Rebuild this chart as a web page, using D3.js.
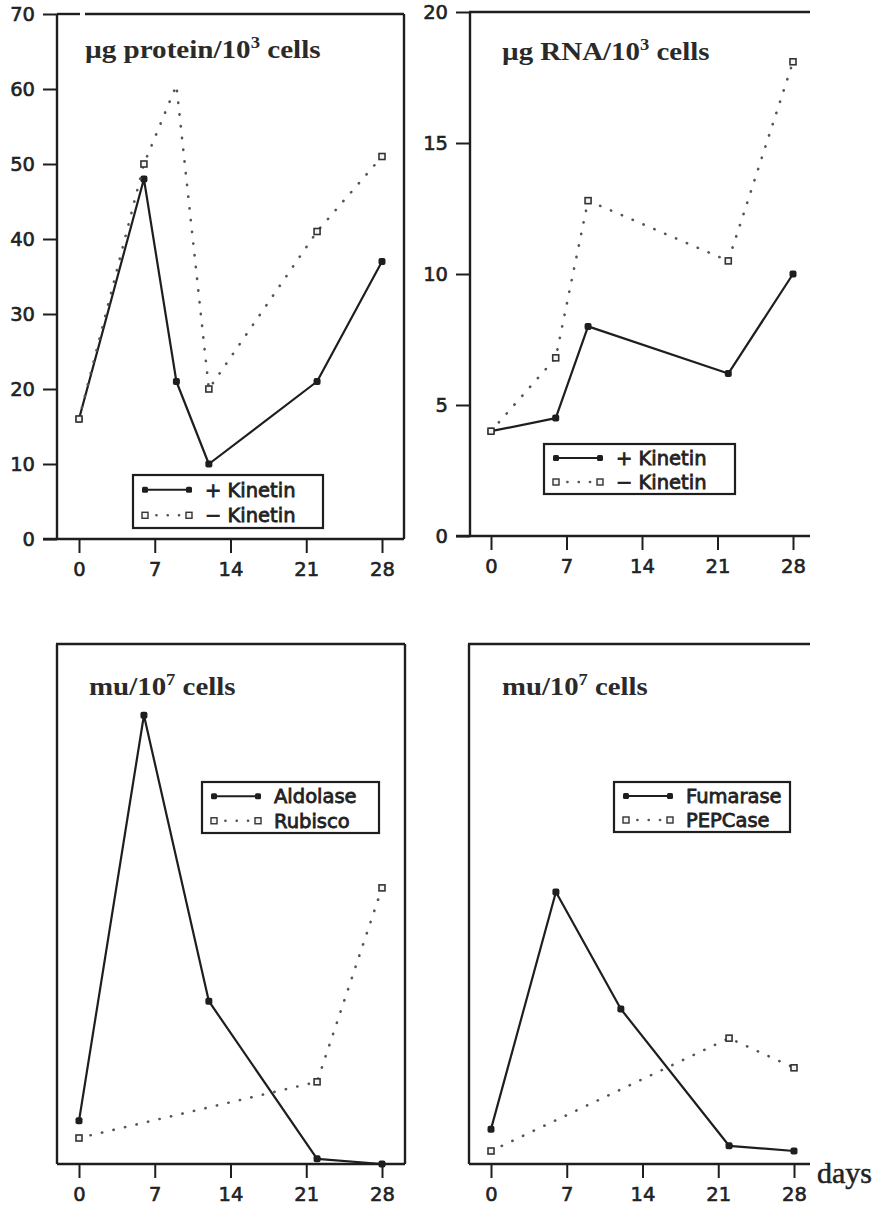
<!DOCTYPE html>
<html><head><meta charset="utf-8">
<script src="https://cdn.jsdelivr.net/npm/d3@7"></script>
<style>
html,body{margin:0;padding:0;background:#fff;}
svg{display:block;}
.tick-label{font-family:"DejaVu Sans",sans-serif;font-weight:normal;font-size:19.5px;fill:#222;stroke:#222;stroke-width:0.6px;}
.legend-text{font-family:"DejaVu Sans",sans-serif;font-weight:normal;font-size:19.5px;fill:#222;stroke:#222;stroke-width:0.8px;}
.title{font-family:"Liberation Serif","Times New Roman",serif;font-weight:bold;font-size:25px;fill:#2a2a2a;}
</style></head>
<body>
<svg id="chart" width="877" height="1206"></svg>
<script>
// ---- data ----
const dayTicks = [0, 7, 14, 21, 28];

const proteinDays = [0, 6, 9, 12, 22, 28];
const proteinPlusKinetin = [16, 48, 21, 10, 21, 37];
const proteinMinusKinetin = [16, 50, 60.5, 20, 41, 51];
const proteinTicks = [0, 10, 20, 30, 40, 50, 60, 70];

const rnaDays = [0, 6, 9, 22, 28];
const rnaPlusKinetin = [4, 4.5, 8, 6.2, 10];
const rnaMinusKinetin = [4, 6.8, 12.8, 10.5, 18.1];
const rnaTicks = [0, 5, 10, 15, 20];

const aldolaseDays = [0, 6, 12, 22, 28];
const aldolase = [8.3, 86.3, 31.3, 1.0, 0];
const rubiscoDays = [0, 22, 28];
const rubisco = [5.0, 15.8, 53.1];

const fumaraseDays = [0, 6, 12, 22, 28];
const fumarase = [6.7, 52.3, 29.8, 3.5, 2.5];
const pepcaseDays = [0, 22, 28];
const pepcase = [2.5, 24.2, 18.5];

// ---- drawing ----
const svg = d3.select("#chart");
const INK = "#1e1e1e";
const DOT = "#555";

function styleAxisText(sel) {
  sel.attr("class", "tick-label").attr("font-size", null).attr("font-family", null).attr("fill", null);
}

function drawPanel(cfg) {
  const g = svg.append("g");
  const x = d3.scaleLinear().domain([0, 28]).range([cfg.x0, cfg.x28]);
  const y = d3.scaleLinear().domain(cfg.yDomain).range([cfg.bottom, cfg.top]);

  if (cfg.yTicks) {
    const ya = d3.axisLeft(y).tickValues(cfg.yTicks).tickSize(14).tickPadding(8);
    const ag = g.append("g").attr("transform", `translate(${cfg.left},0)`).call(ya);
    ag.select(".domain").remove();
    ag.selectAll("line").attr("stroke", INK).attr("stroke-width", 2);
    styleAxisText(ag.selectAll("text"));
  }
  const xa = d3.axisBottom(x).tickValues(dayTicks).tickSize(14).tickPadding(9);
  const xg = g.append("g").attr("transform", `translate(0,${cfg.bottom})`).call(xa);
  xg.select(".domain").remove();
  xg.selectAll("line").attr("stroke", INK).attr("stroke-width", 2);
  styleAxisText(xg.selectAll("text"));

  const fr = g.append("g").attr("stroke", INK).attr("stroke-width", 2.4).attr("fill", "none");
  fr.append("line").attr("x1", cfg.bottomStart).attr("x2", cfg.right).attr("y1", cfg.bottom).attr("y2", cfg.bottom);
  fr.append("line").attr("x1", cfg.left).attr("x2", cfg.left).attr("y1", cfg.leftTop).attr("y2", cfg.bottom);
  if (cfg.topGap) {
    fr.append("line").attr("x1", cfg.left).attr("x2", cfg.topGap[0]).attr("y1", cfg.top).attr("y2", cfg.top);
    fr.append("line").attr("x1", cfg.topGap[1]).attr("x2", cfg.right).attr("y1", cfg.top).attr("y2", cfg.top);
  } else {
    fr.append("line").attr("x1", cfg.left - 1).attr("x2", cfg.right).attr("y1", cfg.top).attr("y2", cfg.top);
  }
  if (cfg.rightBorder) {
    fr.append("line").attr("x1", cfg.right).attr("x2", cfg.right).attr("y1", cfg.top).attr("y2", cfg.bottom);
  }

  // title (stretched horizontally to the reference width)
  const t = g.append("text").attr("class", "title").attr("x", cfg.titleX).attr("y", cfg.titleY);
  t.append("tspan").text(cfg.title[0]);
  t.append("tspan").attr("font-size", "16px").attr("dy", -10).text(cfg.title[1]);
  t.append("tspan").attr("dy", 10).text(cfg.title[2]);
  const w = t.node().getBBox().width;
  const sx = cfg.titleW / w;
  t.attr("transform", `translate(${cfg.titleX},0) scale(${sx},1) translate(${-cfg.titleX},0)`);

  const line = d3.line().x(d => x(d[0])).y(d => y(d[1]));

  cfg.series.forEach(s => {
    const pts = s.days.map((d, i) => [d, s.values[i]]);
    const mpts = pts.filter((d, i) => !(s.skipMarkers || []).includes(i));
    if (s.solid) {
      g.append("path").attr("d", line(pts)).attr("fill", "none")
        .attr("stroke", INK).attr("stroke-width", 2.2).attr("stroke-linejoin", "round");
      g.selectAll(null).data(mpts).enter().append("rect")
        .attr("x", d => x(d[0]) - 3.5).attr("y", d => y(d[1]) - 3.5)
        .attr("width", 7).attr("height", 7).attr("rx", 2).attr("fill", INK);
    } else {
      g.append("path").attr("d", line(pts)).attr("fill", "none")
        .attr("stroke", DOT).attr("stroke-width", 2.6).attr("stroke-linecap", "round")
        .attr("stroke-dasharray", "0.3,11.5");
      g.selectAll(null).data(mpts).enter().append("rect")
        .attr("x", d => x(d[0]) - 3).attr("y", d => y(d[1]) - 3)
        .attr("width", 6).attr("height", 6).attr("fill", "#f4f4f4")
        .attr("stroke", "#333").attr("stroke-width", 1.6);
    }
  });

  const L = cfg.legend;
  const lg = g.append("g");
  lg.append("rect").attr("x", L.x).attr("y", L.y).attr("width", L.w).attr("height", L.h)
    .attr("fill", "#fff").attr("stroke", INK).attr("stroke-width", 2.2);
  cfg.series.forEach((s, i) => {
    const ry = L.y + L.h * (i === 0 ? 0.28 : 0.76);
    const xs = L.x + 12, xe = L.x + 56;
    if (s.solid) {
      lg.append("line").attr("x1", xs).attr("x2", xe).attr("y1", ry).attr("y2", ry)
        .attr("stroke", INK).attr("stroke-width", 2);
      [xs, xe].forEach(px => lg.append("rect").attr("x", px - 3).attr("y", ry - 3)
        .attr("width", 6).attr("height", 6).attr("rx", 1.5).attr("fill", INK));
    } else {
      lg.append("line").attr("x1", xs).attr("x2", xe).attr("y1", ry).attr("y2", ry)
        .attr("stroke", DOT).attr("stroke-width", 2.4).attr("stroke-linecap", "round")
        .attr("stroke-dasharray", "0.3,11");
      [xs, xe].forEach(px => lg.append("rect").attr("x", px - 3).attr("y", ry - 3)
        .attr("width", 6).attr("height", 6).attr("fill", "#f4f4f4")
        .attr("stroke", "#333").attr("stroke-width", 1.4));
    }
    lg.append("text").attr("class", "legend-text").attr("x", L.x + 72).attr("y", ry)
      .attr("dy", "0.36em").text(s.label);
  });
}

drawPanel({
  left: 57, right: 404, top: 14, bottom: 539, x0: 79, x28: 382,
  bottomStart: 43, leftTop: 14, topGap: [80, 85], rightBorder: true,
  yDomain: [0, 70], yTicks: proteinTicks,
  title: ["µg protein/10", "3", " cells"], titleX: 85, titleY: 58, titleW: 236,
  legend: { x: 133, y: 475, w: 190, h: 53 },
  series: [
    { label: "+ Kinetin", days: proteinDays, values: proteinPlusKinetin, solid: true },
    { label: "\u2212 Kinetin", days: proteinDays, values: proteinMinusKinetin, solid: false, skipMarkers: [2] }
  ]
});

drawPanel({
  left: 470, right: 810, top: 12, bottom: 536, x0: 491, x28: 793,
  bottomStart: 456, leftTop: 12, rightBorder: false,
  yDomain: [0, 20], yTicks: rnaTicks,
  title: ["µg RNA/10", "3", " cells"], titleX: 502, titleY: 60, titleW: 208,
  legend: { x: 544, y: 444, w: 191, h: 50 },
  series: [
    { label: "+ Kinetin", days: rnaDays, values: rnaPlusKinetin, solid: true },
    { label: "\u2212 Kinetin", days: rnaDays, values: rnaMinusKinetin, solid: false }
  ]
});

drawPanel({
  left: 57, right: 405, top: 644, bottom: 1164, x0: 79, x28: 382,
  bottomStart: 57, leftTop: 644, rightBorder: true,
  yDomain: [0, 100], yTicks: null,
  title: ["mu/10", "7", " cells"], titleX: 89, titleY: 695, titleW: 147,
  legend: { x: 202, y: 782, w: 177, h: 51 },
  series: [
    { label: "Aldolase", days: aldolaseDays, values: aldolase, solid: true },
    { label: "Rubisco", days: rubiscoDays, values: rubisco, solid: false }
  ]
});

drawPanel({
  left: 469, right: 810, top: 644, bottom: 1164, x0: 491, x28: 794,
  bottomStart: 469, leftTop: 644, rightBorder: false,
  yDomain: [0, 100], yTicks: null,
  title: ["mu/10", "7", " cells"], titleX: 502, titleY: 695, titleW: 146,
  legend: { x: 614, y: 782, w: 176, h: 50 },
  series: [
    { label: "Fumarase", days: fumaraseDays, values: fumarase, solid: true },
    { label: "PEPCase", days: pepcaseDays, values: pepcase, solid: false }
  ]
});

svg.append("text").attr("x", 817).attr("y", 1183)
  .attr("font-family", "Liberation Serif, Times New Roman, serif")
  .attr("font-size", "30px").attr("font-weight", "normal").attr("fill", "#222")
  .attr("stroke", "#222").attr("stroke-width", 0.5).text("days");
</script>
</body></html>
